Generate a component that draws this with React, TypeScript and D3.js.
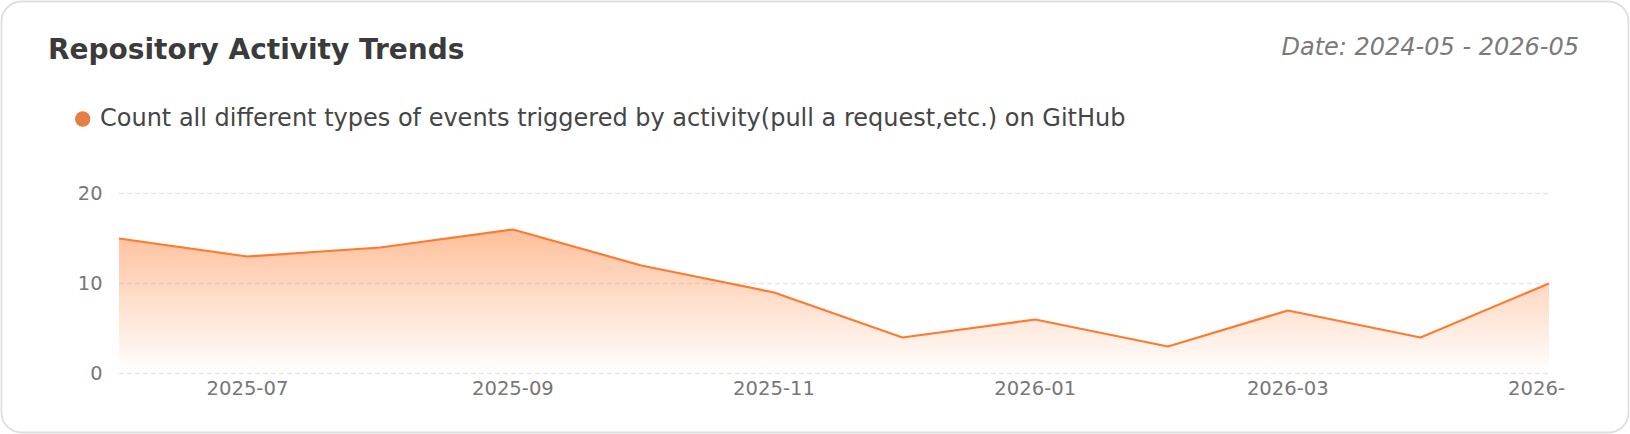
import { useEffect, useRef } from 'react'
import * as d3 from 'd3'

const months = [
  '2025-06', '2025-07', '2025-08', '2025-09', '2025-10', '2025-11',
  '2025-12', '2026-01', '2026-02', '2026-03', '2026-04', '2026-05',
]
const eventCounts = [15, 13, 14, 16, 12, 9, 4, 6, 3, 7, 4, 10]
const yTicks = [0, 10, 20]

const title = 'Repository Activity Trends'
const dateRange = 'Date: 2024-05 - 2026-05'
const legendLabel = 'Count all different types of events triggered by activity(pull a request,etc.) on GitHub'

interface Point {
  date: Date
  value: number
}

export default function App() {
  const svgRef = useRef<SVGSVGElement>(null)

  useEffect(() => {
    if (!svgRef.current) return

    const svg = d3.select(svgRef.current)
    svg.selectAll('*').remove()

    const width = 1630
    const height = 434
    const font = '"DejaVu Sans", Verdana, sans-serif'
    const lineColor = '#ff7a2f'

    const parse = d3.timeParse('%Y-%m')
    const data: Point[] = months.map((m, i) => ({ date: parse(m) as Date, value: eventCounts[i] }))

    // card
    svg.append('rect')
      .attr('x', 1.5)
      .attr('y', 1.5)
      .attr('width', width - 3)
      .attr('height', height - 3)
      .attr('rx', 20)
      .attr('fill', '#ffffff')
      .attr('stroke', '#dedede')
      .attr('stroke-width', 1.8)

    // header
    svg.append('text')
      .attr('x', 48)
      .attr('y', 59)
      .attr('font-family', font)
      .attr('font-size', 28)
      .attr('font-weight', 'bold')
      .attr('fill', '#3b3b3b')
      .text(title)

    svg.append('text')
      .attr('x', 1579)
      .attr('y', 55)
      .attr('text-anchor', 'end')
      .attr('font-family', font)
      .attr('font-size', 24)
      .attr('font-style', 'italic')
      .attr('fill', '#7a7a7a')
      .text(dateRange)

    // legend
    svg.append('circle')
      .attr('cx', 82.7)
      .attr('cy', 119)
      .attr('r', 7.7)
      .attr('fill', '#e67e45')

    svg.append('text')
      .attr('x', 100)
      .attr('y', 126)
      .attr('font-family', font)
      .attr('font-size', 24)
      .attr('fill', '#454545')
      .text(legendLabel)

    // scales
    const x = d3.scaleTime()
      .domain(d3.extent(data, d => d.date) as [Date, Date])
      .range([119, 1549])

    const y = d3.scaleLinear()
      .domain([0, 20])
      .range([373.5, 193.5])

    // gradient
    const defs = svg.append('defs')
    const grad = defs.append('linearGradient')
      .attr('id', 'areaFill')
      .attr('x1', 0).attr('y1', 0)
      .attr('x2', 0).attr('y2', 1)
    grad.append('stop').attr('offset', '0%').attr('stop-color', lineColor).attr('stop-opacity', 0.48)
    grad.append('stop').attr('offset', '100%').attr('stop-color', lineColor).attr('stop-opacity', 0.0)

    defs.append('clipPath')
      .attr('id', 'axisClip')
      .append('rect')
      .attr('x', 0).attr('y', 0)
      .attr('width', 1566).attr('height', height)

    // grid lines
    svg.append('g')
      .selectAll('line')
      .data(yTicks)
      .enter()
      .append('line')
      .attr('x1', 119)
      .attr('x2', 1549)
      .attr('y1', d => y(d))
      .attr('y2', d => y(d))
      .attr('stroke', '#e6e6e6')
      .attr('stroke-width', 1.4)
      .attr('stroke-dasharray', '5 3')

    // y labels
    svg.append('g')
      .selectAll('text')
      .data(yTicks)
      .enter()
      .append('text')
      .attr('x', 102.5)
      .attr('y', d => y(d))
      .attr('dy', '0.35em')
      .attr('text-anchor', 'end')
      .attr('font-family', font)
      .attr('font-size', 19.4)
      .attr('fill', '#777777')
      .text(d => String(d))

    // x labels
    const fmt = d3.timeFormat('%Y-%m')
    svg.append('g')
      .attr('clip-path', 'url(#axisClip)')
      .selectAll('text')
      .data(x.ticks(d3.timeMonth.every(2) as d3.TimeInterval))
      .enter()
      .append('text')
      .attr('x', d => x(d))
      .attr('y', 395)
      .attr('text-anchor', 'middle')
      .attr('font-family', font)
      .attr('font-size', 19.6)
      .attr('fill', '#777777')
      .text(d => fmt(d))

    // area + line
    const area = d3.area<Point>()
      .x(d => x(d.date))
      .y0(y(0))
      .y1(d => y(d.value))

    const line = d3.line<Point>()
      .x(d => x(d.date))
      .y(d => y(d.value))

    svg.append('path')
      .datum(data)
      .attr('fill', 'url(#areaFill)')
      .attr('d', area)

    svg.append('path')
      .datum(data)
      .attr('fill', 'none')
      .attr('stroke', lineColor)
      .attr('stroke-width', 2.2)
      .attr('stroke-linejoin', 'round')
      .attr('d', line)
  }, [])

  return (
    <svg
      ref={svgRef}
      width={1630}
      height={434}
      style={{ position: 'absolute', top: 0, left: 0, background: '#ffffff' }}
    />
  )
}
